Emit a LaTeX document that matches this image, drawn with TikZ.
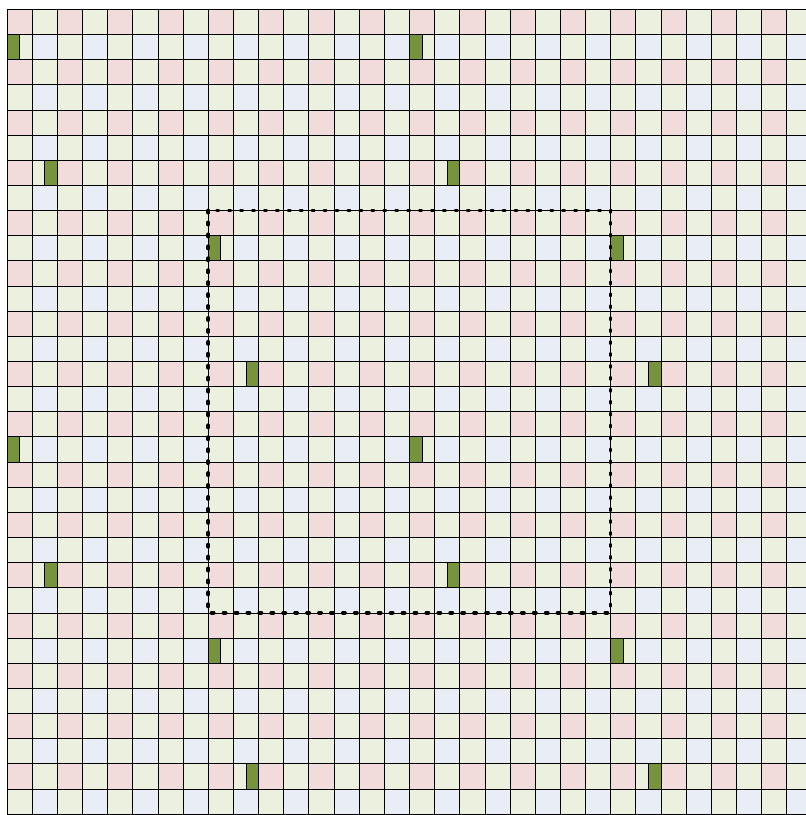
\documentclass[tikz,border=0pt]{standalone}
\usepackage{tikz}
\definecolor{cellpink}{RGB}{242,220,219}
\definecolor{cellgreen}{RGB}{235,241,222}
\definecolor{cellblue}{RGB}{233,237,245}
\definecolor{pilotgreen}{RGB}{119,147,60}

\begin{document}
\begin{tikzpicture}[
    x=1cm, y=-1cm,
    gridline/.style={draw=black, line width=0.7pt},
    pilot/.style={fill=pilotgreen, draw=black, line width=0.7pt},
    window/.style={draw=black, line width=4.2pt, line cap=round, dash pattern=on 2.5pt off 11pt},
]
\useasboundingbox (-0.28,-0.37) rectangle (31.77,32.04);
\clip (-0.28,-0.37) rectangle (31.77,32.04);

% cell colours
\foreach \r in {0,2,...,30} {
  \foreach \c in {0,2,...,30} {
    \fill[cellpink]  (\c,\r) rectangle ++(1,1);
    \fill[cellgreen] (\c+1,\r) rectangle ++(1,1);
    \fill[cellgreen] (\c,\r+1) rectangle ++(1,1);
    \fill[cellblue]  (\c+1,\r+1) rectangle ++(1,1);
  }
}
\foreach \k in {0,...,32} {
  \draw[gridline] (\k,0) -- (\k,32);
  \draw[gridline] (0,\k) -- (32,\k);
}

% pilot cells, repeated every 16 cells
\foreach \i in {0,16} {
  \foreach \j in {0,16} {
    \draw[pilot] (\i,\j+1) rectangle ++(0.5,1);
    \draw[pilot] (\i+1.5,\j+6) rectangle ++(0.5,1);
    \draw[pilot] (\i+8,\j+9) rectangle ++(0.5,1);
    \draw[pilot] (\i+9.5,\j+14) rectangle ++(0.5,1);
  }
}

% dotted window
\coordinate (nw) at (8,8);
\coordinate (se) at (24,24);
\draw[window] (nw) rectangle (se);
\end{tikzpicture}
\end{document}
